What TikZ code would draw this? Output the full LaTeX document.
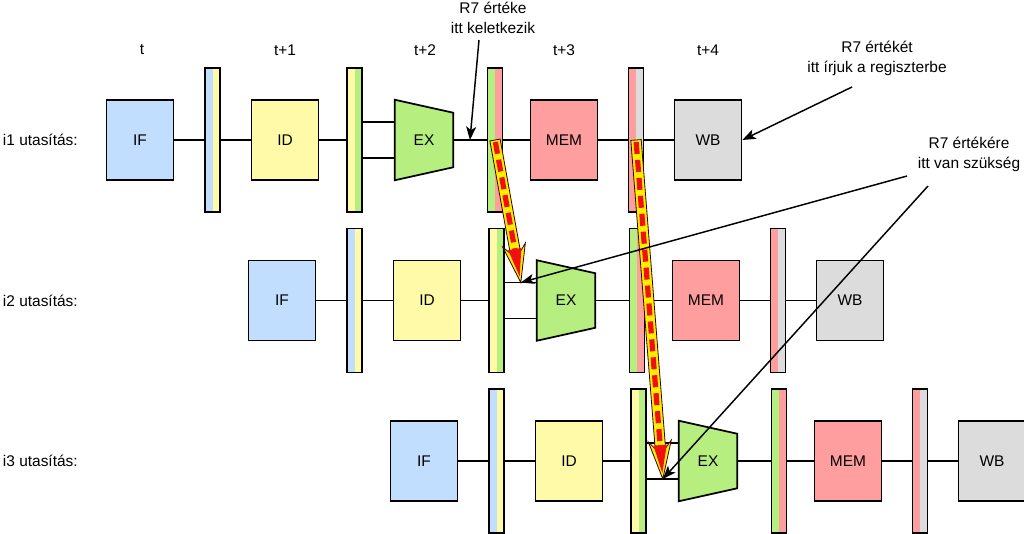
\documentclass[tikz,border=0pt]{standalone}
\usepackage{fontspec}
\setmainfont{Liberation Sans}
\usetikzlibrary{calc,arrows.meta}
\definecolor{cIF}{HTML}{C2DEFF}
\definecolor{cID}{HTML}{FFFAA8}
\definecolor{cEX}{HTML}{B6EE80}
\definecolor{cMEM}{HTML}{FF9E9E}
\definecolor{cWB}{HTML}{DCDCDC}
\definecolor{cFwdY}{HTML}{FFEE00}
\definecolor{cFwdR}{HTML}{F01010}
\newcommand\fwdarrow[2]{%
  \coordinate (fa) at (#1);
  \coordinate (fb) at (#2);
  \coordinate (fh) at ($(fb)!28.5pt!(fa)$);
  \coordinate (fj) at ($(fb)!23pt!(fa)$);
  \coordinate (fh2) at ($(fh)!3pt!(fb)$);
  \filldraw[fill=cFwdY, draw=black!80!red, line width=0.6pt, line join=miter]
    ($(fa)!3.9pt!90:(fb)$) -- ($(fj)!3.9pt!90:(fb)$) -- ($(fh)!8.6pt!90:(fb)$) -- (fb)
    -- ($(fh)!8.6pt!-90:(fb)$) -- ($(fj)!3.9pt!-90:(fb)$) -- ($(fa)!3.9pt!-90:(fb)$) -- cycle;
  \draw[cFwdR, line width=3.9pt, dash pattern=on 9pt off 4.5pt] ($(fa)!1.5pt!(fb)$) -- ($(fj)!-2pt!(fb)$);
  \fill[cFwdR] ($(fh2)!5pt!90:(fb)$) -- ($(fb)!4.5pt!(fa)$) -- ($(fh2)!5pt!-90:(fb)$) -- cycle;
}
\begin{document}
\begin{tikzpicture}[x=0.75pt,y=-0.75pt,
  every node/.style={font=\fontsize{11.6pt}{15pt}\selectfont},
  stage/.style={draw, line width=1.3pt, minimum width=50.25pt, minimum height=60pt, inner sep=0pt},
  exbox/.style={minimum width=43.5pt, minimum height=60pt, inner sep=0pt},
  pipereg/.style 2 args={draw, line width=1.3pt, minimum width=11.25pt, minimum height=108pt, inner sep=0pt, fill=#2,
    path picture={\fill[#1] (path picture bounding box.south west) rectangle (path picture bounding box.north);}},
  wire/.style={line width=1pt},
  note/.style={align=center, inner sep=0pt},
  notearrow/.style={line width=1.1pt, -{Stealth[length=10pt,width=7.5pt,inset=2.5pt]}}
]
\useasboundingbox (0,0) rectangle (1024,533);

% column labels
\node (t0) at (142,50) {t};
\node (t1) at (285,50) {t+1};
\node (t2) at (425,50) {t+2};
\node (t3) at (564,50) {t+3};
\node (t4) at (708,50) {t+4};

\foreach \r/\s/\cy in {1/0/140, 2/142/300.5, 3/284/461} {
  \node[anchor=east, inner sep=0pt] (lab\r) at (78,\cy) {i\r\ utasítás:};
  \node[stage, fill=cIF] (if\r) at ({140+\s},\cy) {IF};
  \node[pipereg={cIF}{cID}] (ra\r) at ({212.5+\s},\cy) {};
  \node[stage, fill=cID] (id\r) at ({285+\s},\cy) {ID};
  \node[pipereg={cID}{cEX}] (rb\r) at ({354.5+\s},\cy) {};
  \node[exbox] (ex\r) at ({424+\s},\cy) {};
  \filldraw[fill=cEX, line width=1.3pt, line join=miter]
    (ex\r.north west) -- ($(ex\r.north east)+(0,13)$) -- ($(ex\r.south east)+(0,-13)$) -- (ex\r.south west) -- cycle;
  \node (exl\r) at (ex\r.center) {EX};
  \node[pipereg={cEX}{cMEM}] (rc\r) at ({495+\s},\cy) {};
  \node[stage, fill=cMEM] (mem\r) at ({564+\s},\cy) {MEM};
  \node[pipereg={cMEM}{cWB}] (rd\r) at ({636+\s},\cy) {};
  \node[stage, fill=cWB] (wb\r) at ({708+\s},\cy) {WB};
  \draw[wire] (if\r.east) -- (ra\r.west);
  \draw[wire] (ra\r.east) -- (id\r.west);
  \draw[wire] (id\r.east) -- (rb\r.west);
  \draw[wire] ([yshift=13.5pt]rb\r.east) -- ([yshift=13.5pt]ex\r.west);
  \draw[wire] ([yshift=-13.5pt]rb\r.east) -- ([yshift=-13.5pt]ex\r.west);
  \draw[wire] (ex\r.east) -- (rc\r.west);
  \draw[wire] (rc\r.east) -- (mem\r.west);
  \draw[wire] (mem\r.east) -- (rd\r.west);
  \draw[wire] (rd\r.east) -- (wb\r.west);
}

\coordinate (up2) at ($([yshift=13.5pt]rb2.east)!0.5!([yshift=13.5pt]ex2.west)$);
\coordinate (lo3) at ($([yshift=-13.5pt]rb3.east)!0.5!([yshift=-13.5pt]ex3.west)$);
\coordinate (ex1out) at ($(ex1.east)!0.5!(rc1.west)$);

% forwarding arrows
\fwdarrow{rc1.center}{up2}
\fwdarrow{rd1.center}{lo3}

% annotations
\node[note] (ann1) at (493,18) {R7 értéke\\itt keletkezik};
\node[note] (ann2) at (877,58) {R7 értékét\\itt írjuk a regiszterbe};
\node[note] (ann3) at (969,154) {R7 értékére\\itt van szükség};
\coordinate (n1s) at (479,40);
\coordinate (n2s) at (852,87);
\coordinate (n3s) at (907,176);
\coordinate (n4s) at (928,186);
\draw[notearrow] (n1s) -- (ex1out);
\draw[notearrow] (n2s) -- (wb1.east);
\draw[notearrow] (n3s) -- (up2);
\draw[notearrow] (n4s) -- (lo3);
\end{tikzpicture}
\end{document}
